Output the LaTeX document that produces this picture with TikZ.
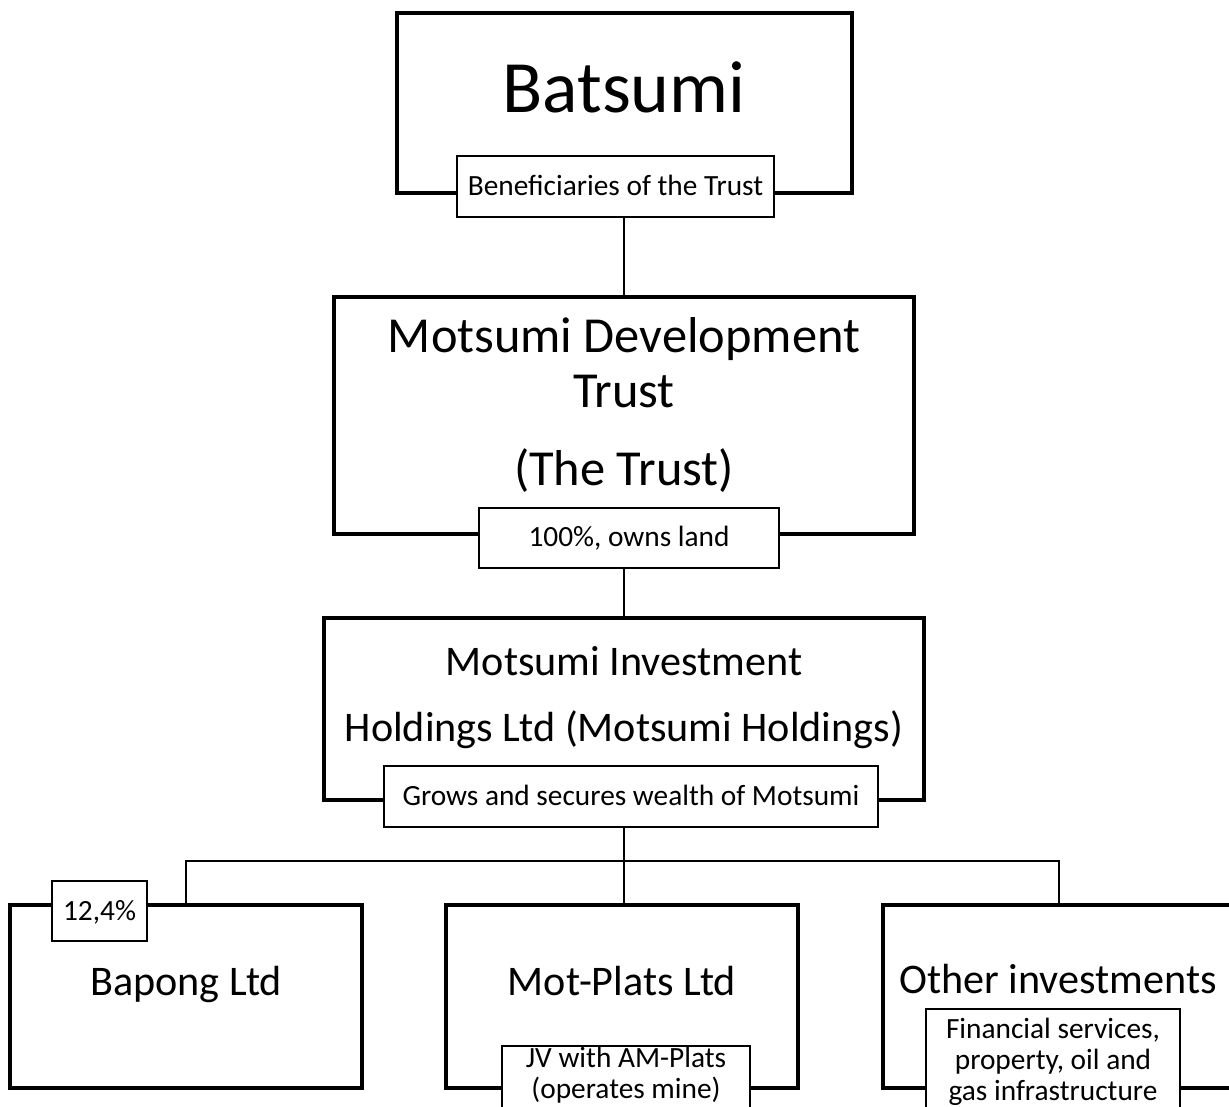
\documentclass[tikz,border=0pt]{standalone}
\usepackage{fontspec}
\setmainfont{Carlito}
\begin{document}
\begin{tikzpicture}[x=0.02cm, y=-0.02cm,
  box/.style={draw, line width=2pt, fill=white, inner sep=0pt},
  tag/.style={draw, line width=1.1pt, fill=white, inner sep=0pt},
  txt/.style={anchor=base, align=center, inner sep=0pt},
  big/.style={font=\fontsize{24}{37.8}\selectfont},
  small/.style={font=\fontsize{16.7}{17.5}\selectfont}]
  \useasboundingbox (0,0) rectangle (1229,1106);
  \clip (0,0) rectangle (1229,1106);
  % entities
  \node[box, minimum width=9.1cm,  minimum height=3.6cm]  (batsumi)  at (624.5,103)  {};
  \node[box, minimum width=11.6cm, minimum height=4.74cm] (trust)    at (624,415.5)  {};
  \node[box, minimum width=12cm,   minimum height=3.64cm] (hold)     at (624,709)    {};
  \node[box, minimum width=7.04cm, minimum height=3.66cm] (bapong)   at (186,996.5)  {};
  \node[box, minimum width=7.04cm, minimum height=3.66cm] (motplats) at (622,996.5)  {};
  \node[box, minimum width=7.04cm, minimum height=3.66cm] (other)    at (1059,996.5) {};
  % tags
  \node[tag, minimum width=6.34cm, minimum height=1.22cm] (benef) at (615.5,186.5) {};
  \node[tag, minimum width=6cm,    minimum height=1.2cm]  (owns)  at (629,538)     {};
  \node[tag, minimum width=9.88cm, minimum height=1.22cm] (grows) at (631,796.5)   {};
  \node[tag, minimum width=1.9cm,  minimum height=1.2cm]  (pct)   at (99.5,911)    {};
  \node[tag, minimum width=4.96cm, minimum height=1.48cm] (jv)    at (626,1083)    {};
  \node[tag, minimum width=5.08cm, minimum height=2.12cm] (fin)   at (1053,1062)   {};
  % texts (anchored on the last baseline)
  \node[txt, font=\fontsize{42}{50}\selectfont] (batsumi-t) at (624,112) {Batsumi};
  \node[txt, font=\fontsize{28.7}{31.4}\selectfont] (trust-t) at (624,485) {Motsumi Development\\Trust\\[12.8pt](The Trust)};
  \node[txt, big] (hold-t)     at (624,741.7) {Motsumi Investment\\Holdings Ltd (Motsumi Holdings)};
  \node[txt, big] (bapong-t)   at (186,995)  {Bapong Ltd};
  \node[txt, big] (motplats-t) at (622,995)  {Mot-Plats Ltd};
  \node[txt, big] (other-t)    at (1058,993) {Other investments};
  \node[txt, small] (benef-t) at (615.5,195) {Beneficiaries of the Trust};
  \node[txt, small] (owns-t)  at (629,546.7) {100\%, owns land};
  \node[txt, small] (grows-t) at (631,805)   {Grows and secures wealth of Motsumi};
  \node[txt, small] (pct-t)   at (99.5,920)  {12,4\%};
  \node[txt, small] (jv-t)    at (626,1098)  {JV with AM-Plats\\(operates mine)};
  \node[txt, small] (fin-t)   at (1053,1100) {Financial services,\\property, oil and\\gas infrastructure};
  % connectors
  \coordinate (split) at (624,861);
  \draw[line width=1.1pt] (trust.north |- benef.south) -- (trust.north);
  \draw[line width=1.1pt] (hold.north |- owns.south) -- (hold.north);
  \draw[line width=1.1pt] (hold.north |- grows.south) -- (split);
  \draw[line width=1.1pt] (bapong.north) |- (split) -| (other.north);
  \draw[line width=1.1pt] (split) -- (split |- motplats.north);
\end{tikzpicture}
\end{document}
